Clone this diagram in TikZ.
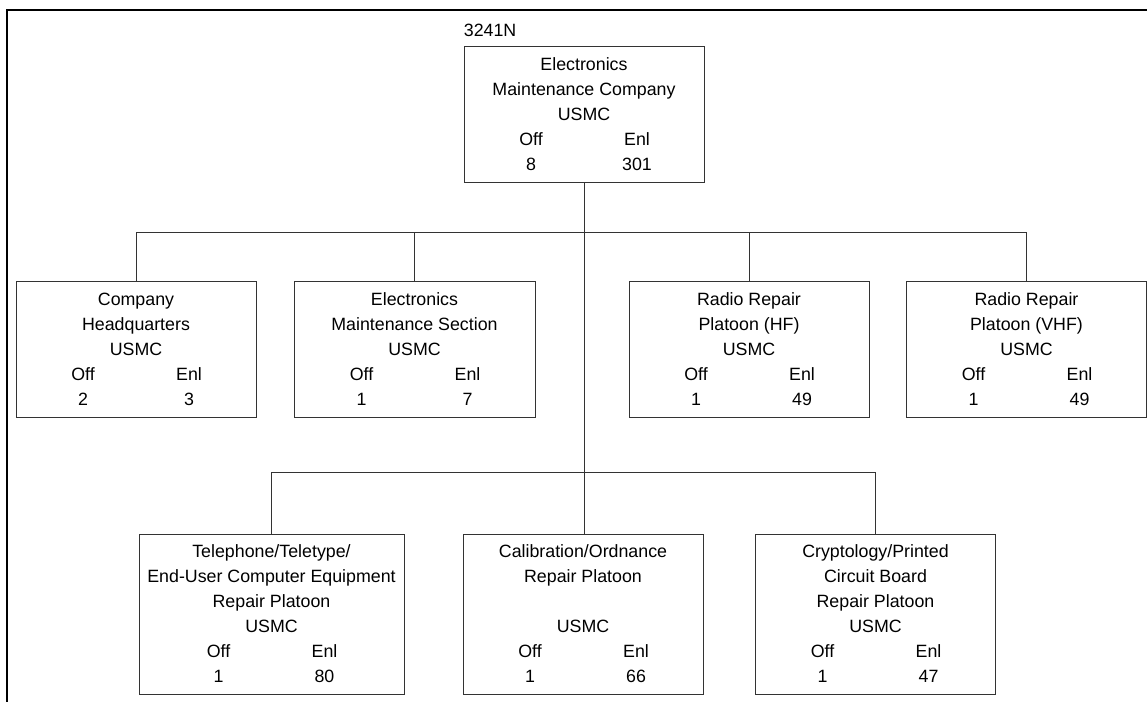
\documentclass[tikz,border=0pt]{standalone}
\usepackage{fontspec}
\setmainfont{Liberation Sans}
\usetikzlibrary{positioning}
\newcommand{\offenl}[2]{\makebox[53pt]{Off}\makebox[53pt]{Enl}\\\makebox[53pt]{#1}\makebox[53pt]{#2}}

\begin{document}
\begin{tikzpicture}[x=0.5pt,y=-0.5pt,
  unit/.style={draw=black!80,line width=0.5pt,align=center,inner sep=0pt,minimum width=120pt,minimum height=68pt,font=\fontsize{8.9}{12.5}\selectfont},
  link/.style={draw=black!80,line width=0.5pt}]
\useasboundingbox (0,0) rectangle (1147,702);
\draw[line width=1.3pt] (7,720) -- (7,10) -- (1170,10);
% company
\node[unit] (emc) at (584,114.5) {Electronics\\Maintenance Company\\USMC\\\offenl{8}{301}};
\node[anchor=south west,inner sep=0pt,font=\fontsize{8.9}{12.5}\selectfont] (code) at ([yshift=4.5pt]emc.north west) {3241N};
% sections and platoons
\node[unit] (hq) at (136,349) {Company\\Headquarters\\USMC\\\offenl{2}{3}};
\node[unit,minimum width=120.5pt] (ems) at (414.5,349) {Electronics\\Maintenance Section\\USMC\\\offenl{1}{7}};
\node[unit] (hf) at (749,349) {Radio Repair\\Platoon (HF)\\USMC\\\offenl{1}{49}};
\node[unit] (vhf) at (1026.5,349) {Radio Repair\\Platoon (VHF)\\USMC\\\offenl{1}{49}};
\node[unit,minimum width=132.5pt,minimum height=80pt] (tel) at (271.5,614) {Telephone/Teletype/\\End-User Computer Equipment\\Repair Platoon\\USMC\\\offenl{1}{80}};
\node[unit,minimum height=80pt] (cal) at (583,614) {Calibration/Ordnance\\Repair Platoon\\[12.5pt]USMC\\\offenl{1}{66}};
\node[unit,minimum height=80pt] (crypto) at (875.5,614) {Cryptology/Printed\\Circuit Board\\Repair Platoon\\USMC\\\offenl{1}{47}};
% connectors
\coordinate (bus1) at (584,232);
\coordinate (bus2) at (584,472);
\draw[link] (emc.south) -- (emc.south |- cal.north);
\draw[link] (hq.north) -- (hq.north |- bus1) -- (vhf.north |- bus1) -- (vhf.north);
\foreach \n in {ems,hf}
  \draw[link] (\n.north) -- (\n.north |- bus1);
\draw[link] (tel.north) -- (tel.north |- bus2) -- (crypto.north |- bus2) -- (crypto.north);
\end{tikzpicture}
\end{document}
